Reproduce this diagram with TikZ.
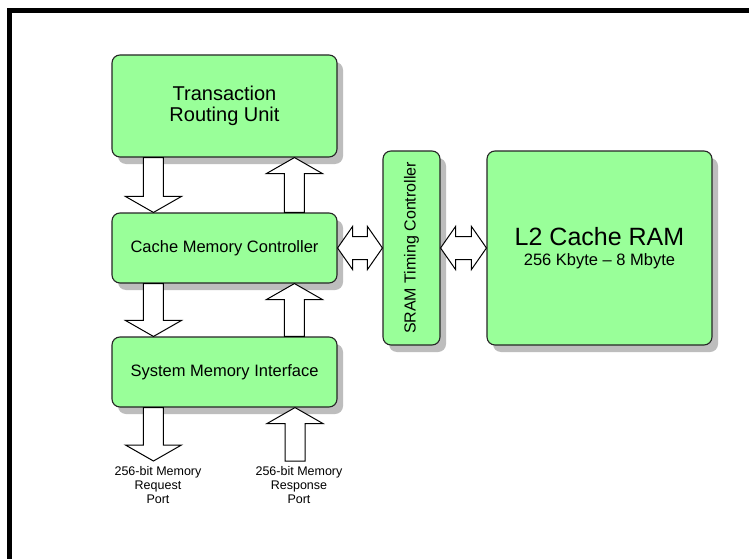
\documentclass[tikz,border=0pt]{standalone}
\usepackage{fontspec}
\setmainfont{Liberation Sans}
\usetikzlibrary{calc,shadows}
\definecolor{boxgreen}{RGB}{153,255,153}
\tikzset{
  gbox/.style={draw=black!85, fill=boxgreen, rounded corners=8pt, line width=1.1pt,
    drop shadow={shadow xshift=6pt, shadow yshift=-7pt, fill=black!26, opacity=1},
    inner sep=0pt, align=center, text=black},
  barrow/.style={draw=black, fill=white, line width=1pt, line join=miter},
  lbl/.style={font=\fontsize{12.5}{14}\selectfont, align=center, inner sep=0pt, anchor=north},
  frameline/.style={draw=black, line width=5pt, line join=miter}
}
\newcommand\VArrow[3]{%
  \draw[barrow] let \p1=(#1), \p2=(#2), \n1={#3*16} in
   ({\x1-10pt},\y1) -- ({\x1-10pt},{\y2+\n1 pt}) -- ({\x1-28pt},{\y2+\n1 pt}) -- (\x1,\y2)
   -- ({\x1+28pt},{\y2+\n1 pt}) -- ({\x1+10pt},{\y2+\n1 pt}) -- ({\x1+10pt},\y1) -- cycle;}
\newcommand\HDArrow[2]{%
  \draw[barrow] let \p1=(#1), \p2=(#2) in
   (\x1,\y1) -- ({\x1+15pt},{\y1+21.5pt}) -- ({\x1+15pt},{\y1+11.5pt}) -- ({\x2-15pt},{\y1+11.5pt})
   -- ({\x2-15pt},{\y1+21.5pt}) -- (\x2,\y1) -- ({\x2-15pt},{\y1-21.5pt}) -- ({\x2-15pt},{\y1-11.5pt})
   -- ({\x1+15pt},{\y1-11.5pt}) -- ({\x1+15pt},{\y1-21.5pt}) -- cycle;}
\begin{document}
\begin{tikzpicture}[x=1pt,y=-1pt]
\useasboundingbox (0,0) rectangle (749,559);
\fill[white] (0,0) rectangle (749,559);
\draw[frameline] (9.5,559) -- (9.5,10.75) -- (749,10.75);

\node[gbox, minimum width=225pt, minimum height=102pt, font=\fontsize{20}{21.5}\selectfont]
  (tru) at (224.5,106) {Transaction\\Routing Unit};
\node[gbox, minimum width=225pt, minimum height=70pt, font=\fontsize{16.5}{20}\selectfont]
  (cmc) at (224.5,248) {Cache Memory Controller};
\node[gbox, minimum width=225pt, minimum height=70pt, font=\fontsize{16.5}{20}\selectfont]
  (smi) at (224.5,372) {System Memory Interface};
\node[gbox, minimum width=57pt, minimum height=194pt, font=\fontsize{16}{20}\selectfont]
  (sram) at (411.5,248) {\rotatebox{90}{SRAM Timing Controller}};
\node[gbox, minimum width=225pt, minimum height=194pt, font=\fontsize{25}{20}\selectfont]
  (l2) at (599.5,248) {L2 Cache RAM\\{\fontsize{16.5}{20}\selectfont 256 Kbyte – 8 Mbyte}};

\coordinate (reqend) at (154,461);
\coordinate (rspstart) at (295,461);

\VArrow{[xshift=42pt]tru.south west}{[xshift=42pt]cmc.north west}{1}
\VArrow{[xshift=183pt]cmc.north west}{[xshift=183pt]tru.south west}{-1}
\VArrow{[xshift=42pt]cmc.south west}{[xshift=42pt]smi.north west}{1}
\VArrow{[xshift=183pt]smi.north west}{[xshift=183pt]cmc.south west}{-1}
\VArrow{[xshift=42pt]smi.south west}{reqend}{1}
\VArrow{rspstart}{[xshift=183pt]smi.south west}{-1}

\HDArrow{cmc.east}{sram.west |- cmc.east}
\HDArrow{sram.east}{l2.west |- sram.east}

\node[lbl] (reqlbl) at (158,466) {256-bit Memory\\Request\\Port};
\node[lbl] (rsplbl) at (299,466) {256-bit Memory\\Response\\Port};
\end{tikzpicture}
\end{document}
